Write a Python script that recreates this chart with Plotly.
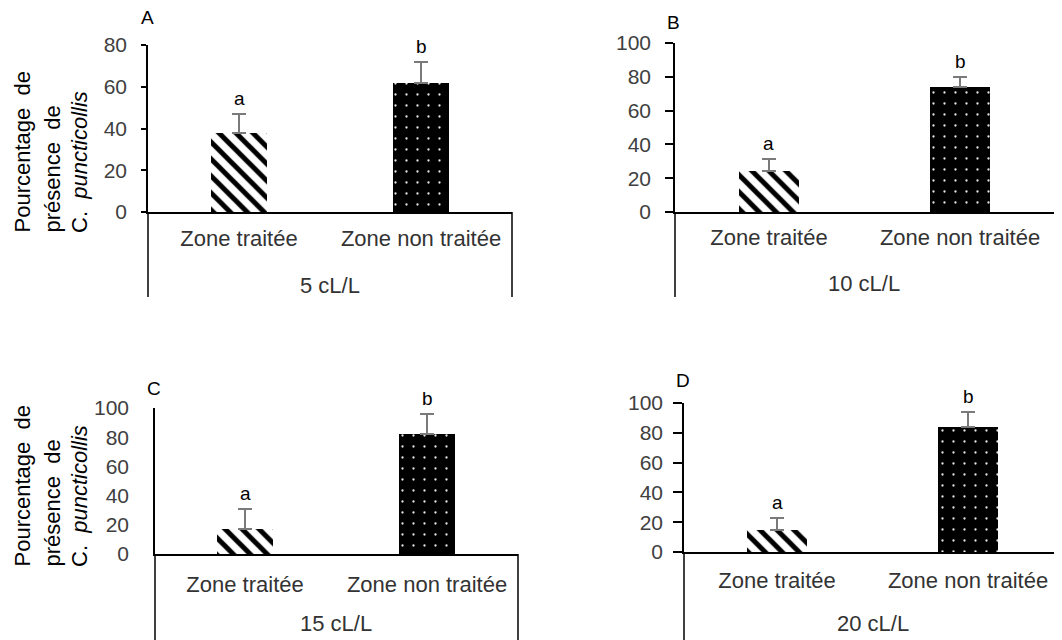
import plotly.graph_objects as go

# The page body has an 8 px default margin: the figure is sized so it ends at the window edge.
OFF = 8
W, H = 1062 - OFF, 640 - OFF

# ---------------- data ----------------
categories = ["Zone traitée", "Zone non traitée"]
panel_letters = ["A", "B", "C", "D"]
doses = ["5 cL/L", "10 cL/L", "15 cL/L", "20 cL/L"]

values_A = [37.8, 61.7]
errors_A = [9.1, 10.3]
values_B = [24.3, 74.1]
errors_B = [7.1, 5.9]
values_C = [17.1, 82.2]
errors_C = [13.7, 13.7]
values_D = [14.8, 83.9]
errors_D = [8.0, 10.1]
letters = ["a", "b"]
y_max = [80, 100, 100, 100]
y_ticks = [[0, 20, 40, 60, 80], [0, 20, 40, 60, 80, 100],
           [0, 20, 40, 60, 80, 100], [0, 20, 40, 60, 80, 100]]

values = [values_A, values_B, values_C, values_D]
errors = [errors_A, errors_B, errors_C, errors_D]

# ---------------- layout (window pixels) ----------------
cfg = [
    dict(x0=148, x1=512, yz=212, yt=45, xr=[-0.5, 1.5], tl=5, so=10, xso=6, yb=297, right=True,
         lx=147, ly=18, dy=285),
    dict(x0=675, x1=1062, yz=212, yt=43, xr=[-0.492, 1.534], tl=8, so=10, xso=5, yb=297, right=False,
         lx=673, ly=22, dy=283),
    dict(x0=155, x1=518, yz=554, yt=408, xr=[-0.495, 1.5], tl=0, so=20, xso=10, yb=640, right=True,
         lx=154, ly=388, dy=623),
    dict(x0=684, x1=1062, yz=552, yt=403, xr=[-0.487, 1.492], tl=9, so=6, xso=8, yb=640, right=False,
         lx=683, ly=380, dy=623),
]

FONT = "Liberation Sans, Arial, sans-serif"

def px(x):
    return (x - OFF) / W

def py(y):
    return 1 - (y - OFF) / H

fig = go.Figure()
layout = dict(
    width=W, height=H,
    margin=dict(l=0, r=0, t=0, b=0),
    paper_bgcolor="white", plot_bgcolor="white",
    showlegend=False, bargap=0,
    font=dict(family=FONT, color="#000000"),
)
annotations = []
shapes = []

for i in range(4):
    c = cfg[i]
    n = "" if i == 0 else str(i + 1)
    xa, ya = "x" + n, "y" + n
    patterns = [
        dict(shape="\\", bgcolor="white", fgcolor="black", fgopacity=1, fillmode="replace",
             size=12, solidity=0.42),
        dict(shape=".", bgcolor="black", fgcolor="#e6e6e6", fgopacity=1, fillmode="replace",
             size=11, solidity=0.035),
    ]
    for j in range(2):
        fig.add_trace(go.Bar(
            x=[categories[j]], y=[values[i][j]],
            xaxis=xa, yaxis=ya, width=0.31,
            marker=dict(color="white" if j == 0 else "black",
                        line=dict(width=0), pattern=patterns[j]),
            error_y=dict(type="data", symmetric=False, array=[errors[i][j]], arrayminus=[0],
                         color="#7a7a7a", thickness=1.6, width=7),
            hoverinfo="skip",
        ))
        annotations.append(dict(
            x=categories[j], y=values[i][j] + errors[i][j], xref=xa, yref=ya,
            text=letters[j], showarrow=False, yanchor="bottom", yshift=3,
            font=dict(size=19, color="black", family=FONT)))

    layout["xaxis" + n] = dict(
        domain=[px(c["x0"]), px(c["x1"])], anchor=ya, type="category",
        categoryorder="array", categoryarray=categories, range=c["xr"],
        showline=True, linecolor="black", linewidth=1.5, ticks="",
        tickfont=dict(size=22, color="#333333", family=FONT),
        ticklabelstandoff=c["xso"], showgrid=False, zeroline=False, automargin=False,
        fixedrange=True)
    layout["yaxis" + n] = dict(
        domain=[py(c["yz"]), py(c["yt"])], anchor=xa, range=[0, y_max[i]],
        tickvals=y_ticks[i], showline=True, linecolor="black", linewidth=1.5,
        ticks="outside" if c["tl"] > 0 else "", ticklen=c["tl"], tickwidth=1.5,
        tickcolor="black", ticklabelstandoff=c["so"],
        tickfont=dict(size=21, color="#404040", family=FONT),
        showgrid=False, zeroline=False, automargin=False, fixedrange=True)

    # frame lines below the zero line
    shapes.append(dict(type="line", xref="paper", yref="paper",
                       x0=px(c["x0"]), x1=px(c["x0"]), y0=py(c["yz"]), y1=py(c["yb"]),
                       line=dict(color="black", width=1.5)))
    if c["right"]:
        shapes.append(dict(type="line", xref="paper", yref="paper",
                           x0=px(c["x1"]), x1=px(c["x1"]), y0=py(c["yz"]), y1=py(c["yb"]),
                           line=dict(color="black", width=1.5)))
    # dose label
    annotations.append(dict(x=0.5, y=py(c["dy"]), xref=xa, yref="paper", text=doses[i],
                            showarrow=False, yanchor="middle",
                            font=dict(size=22, color="#333333", family=FONT)))
    # panel letter
    annotations.append(dict(x=px(c["lx"]), y=py(c["ly"]), xref="paper", yref="paper",
                            text=panel_letters[i], showarrow=False, xanchor="center",
                            yanchor="middle", font=dict(size=19, color="black", family=FONT)))

# y-axis titles (left column)
title_lines = ["Pourcentage\u00a0 de", "présence\u00a0 de", "C.\u00a0 <i>puncticollis</i>"]
title_x = [22, 52, 79]
for ybot in (235, 569):
    for k in range(3):
        annotations.append(dict(x=px(title_x[k]), y=py(ybot), xref="paper", yref="paper",
                                text=title_lines[k], textangle=-90, showarrow=False,
                                xanchor="center", yanchor="bottom",
                                font=dict(size=22, color="black", family=FONT)))

layout["annotations"] = annotations
layout["shapes"] = shapes
fig.update_layout(**layout)
fig.write_html("out.html")
